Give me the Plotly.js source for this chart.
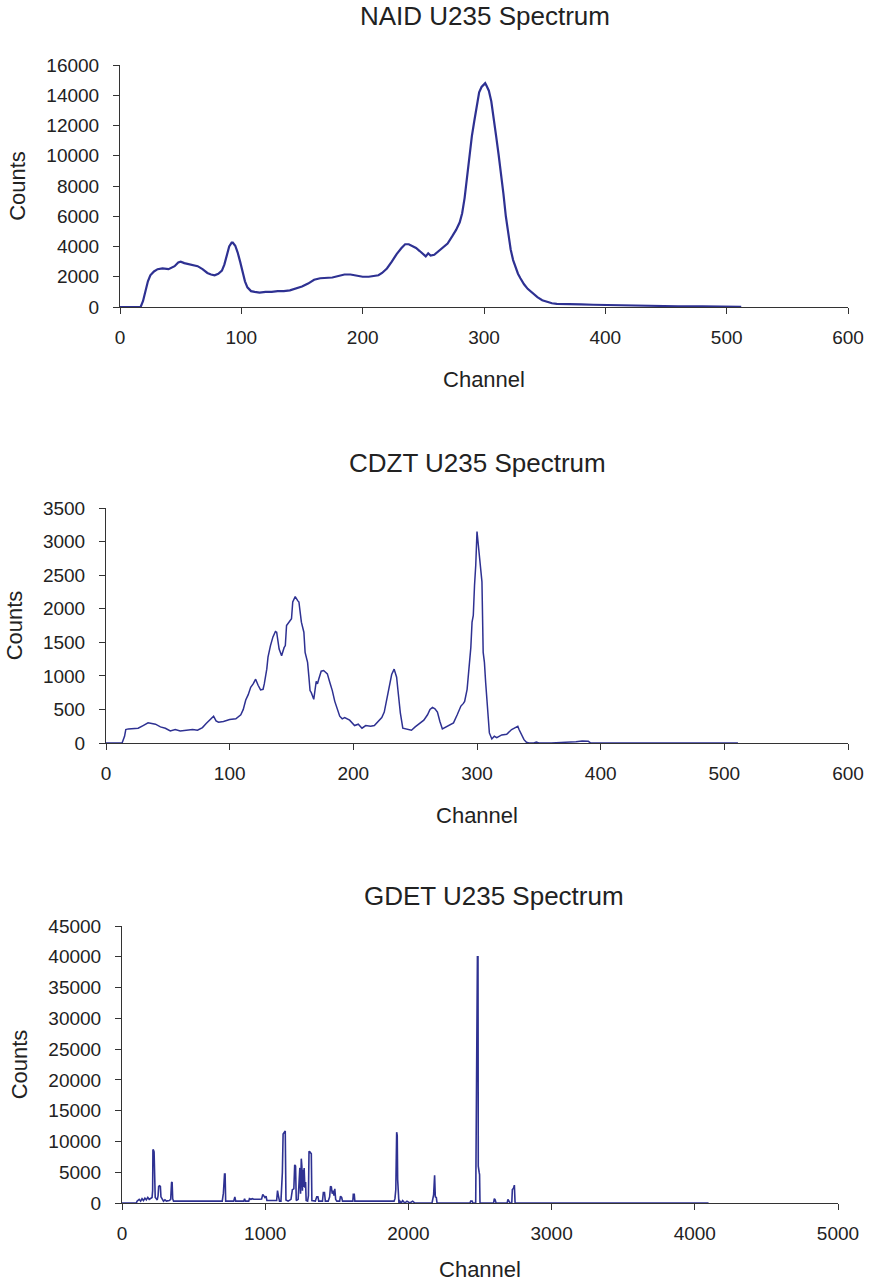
<!DOCTYPE html>
<html>
<head>
<meta charset="utf-8">
<script src="https://cdn.plot.ly/plotly-3.0.1.min.js"></script>
<style>html,body{margin:0;padding:0;background:#fff;}#chart{width:870px;height:1282px;}</style>
</head>
<body>
<div id="chart"></div>
<script>
// ---- NAID U235 spectrum ----
const naidChannel = [0,10,17,19,21,23,25,28,31,35,40,45,48,50,53,56,60,64,68,72,75,78,81,84,86,88,90,92,93,95,97,99,101,103,105,108,111,115,120,125,130,135,140,145,150,155,160,165,170,175,180,185,190,195,200,205,210,213,216,220,224,228,232,235,238,241,244,247,250,252,254,256,259,262,266,270,274,277,280,282,284,286,288,290,292,294,296,298,300,301,302,304,306,308,310,312,314,316,318,320,322,324,326,328,330,333,336,340,344,348,352,356,360,365,370,380,390,400,420,440,460,480,500,512];
const naidCounts = [0,0,0,400,1100,1700,2100,2350,2500,2550,2500,2700,2950,3000,2900,2850,2800,2700,2500,2250,2150,2100,2200,2400,2800,3400,4000,4250,4250,4050,3600,3000,2300,1700,1300,1050,1000,950,1000,1000,1050,1050,1100,1200,1350,1550,1800,1900,1950,1950,2050,2150,2150,2100,2000,2000,2050,2100,2250,2550,3000,3500,3900,4150,4150,4050,3900,3700,3450,3350,3550,3400,3450,3650,3900,4200,4700,5100,5600,6200,7200,8600,10000,11300,12300,13300,14200,14550,14700,14800,14650,14300,13600,12600,11300,10100,8900,7500,6000,4800,3800,3100,2600,2200,1900,1500,1200,900,650,450,330,250,210,190,180,170,150,130,90,70,50,40,20,10];

// ---- CDZT U235 spectrum ----
const cdztChannel = [0,13,15,16,18,22,26,30,34,37,40,44,48,52,56,60,66,70,74,78,81,84,87,89,91,95,100,105,109,111,113,115,117,119,121,123,125,127,128,130,131,133,135,137,138,140,142,144,145,146,148,150,151,153,155,156,158,160,161,163,164,165,166,168,170,171,172,174,176,178,179,181,183,185,187,189,191,193,197,201,204,207,210,214,217,220,223,225,227,229,231,233,234,235,236,237,238,240,244,247,250,253,257,260,262,264,266,268,269,270,272,275,278,281,284,287,289,290,292,293,295,296,297,298,299,300,301,302,303,304,305,306,307,308,309,310,312,314,316,320,324,328,331,333,334,336,338,340,342,346,348,350,360,380,385,390,392,400,450,511];
const cdztCounts = [0,0,100,200,210,210,220,260,300,290,280,240,220,180,200,180,190,200,190,230,290,340,400,330,310,320,350,360,420,500,640,720,830,880,950,860,790,800,880,1100,1280,1450,1580,1660,1650,1400,1300,1420,1450,1750,1800,1850,2100,2180,2120,2100,1800,1650,1350,1200,1000,780,750,650,920,880,950,1070,1080,1050,1030,900,780,620,520,400,360,380,340,260,280,220,260,250,260,320,380,460,640,820,1020,1100,1020,980,800,600,450,220,200,190,240,280,340,420,500,530,510,460,370,320,210,240,270,300,420,550,590,620,800,1000,1420,1800,1900,2350,2650,3150,2950,2750,2500,2400,1350,1200,900,600,300,150,60,100,80,120,130,200,230,250,200,120,50,10,0,0,15,0,0,20,30,25,0,0,0,0];

// ---- GDET U235 spectrum ----
const gdetChannel = [0,100,105,120,130,140,150,160,170,180,190,200,210,214,216,220,224,228,232,240,246,252,256,262,268,272,280,290,300,310,330,340,346,350,354,360,700,708,716,720,724,780,788,794,850,856,862,885,890,900,910,920,960,975,983,990,998,1006,1012,1080,1086,1092,1100,1110,1120,1125,1133,1140,1145,1160,1180,1190,1200,1206,1212,1217,1230,1236,1242,1247,1252,1256,1260,1264,1268,1272,1277,1282,1286,1296,1302,1306,1312,1318,1322,1326,1350,1360,1368,1374,1400,1406,1414,1420,1440,1450,1456,1462,1468,1474,1480,1486,1492,1500,1520,1526,1534,1540,1612,1615,1622,1626,1900,1906,1912,1918,1922,1925,1928,1934,1940,1950,1960,1975,1990,2010,2030,2045,2165,2170,2176,2183,2188,2195,2200,2430,2435,2445,2450,2470,2474,2478,2482,2486,2488,2494,2497,2500,2595,2600,2606,2612,2690,2695,2705,2710,2722,2726,2734,2740,2745,4096];
const gdetCounts = [0,0,300,600,300,700,400,800,500,900,600,700,900,2000,8700,8600,8300,2000,900,700,500,1200,2700,2800,2700,1000,600,300,500,300,400,600,3300,3400,700,300,300,1600,4700,4700,300,300,1000,300,300,700,300,300,700,600,700,600,600,650,1400,1200,900,1100,400,400,2000,1200,300,300,5000,11200,11400,11700,500,300,600,2200,2300,6200,6000,400,600,3800,5700,1500,7200,6000,2000,5400,2600,5700,2500,3400,400,300,1200,8400,8300,8000,8000,400,300,1000,1000,300,300,1700,1700,300,300,1000,2700,2600,1500,2000,1200,2300,600,300,300,1100,900,300,300,1400,1400,300,300,700,2200,11500,11000,3800,2400,0,300,0,400,0,300,0,300,0,0,1000,1300,4500,1000,900,0,0,300,300,0,0,20000,23000,40000,40000,6000,5000,4600,0,0,700,500,0,0,600,300,0,0,2200,2400,2900,0,0];

const titles = ["NAID U235 Spectrum", "CDZT U235 Spectrum", "GDET U235 Spectrum"];
const xTitle = "Channel";
const yTitle = "Counts";

const W = 870, H = 1282;
const lineColor = "#2E3192";
const axisColor = "#333333";
const textColor = "#222222";
const fam = "Liberation Sans, Arial, sans-serif";

function px(x){ return x / W; }
function py(y){ return 1 - y / H; }

const traces = [
  {x: naidChannel, y: naidCounts, type: "scatter", mode: "lines", line: {color: lineColor, width: 2.2}, xaxis: "x", yaxis: "y"},
  {x: cdztChannel, y: cdztCounts, type: "scatter", mode: "lines", line: {color: lineColor, width: 1.5}, xaxis: "x2", yaxis: "y2"},
  {x: gdetChannel, y: gdetCounts, type: "scatter", mode: "lines", line: {color: lineColor, width: 1.6}, xaxis: "x3", yaxis: "y3"}
];

function xAxis(dom, range, dtick, anchor){
  return {
    domain: dom, range: range, dtick: dtick, tick0: 0, anchor: anchor,
    tickformat: "d",
    showline: true, linecolor: axisColor, linewidth: 1, zeroline: false, showgrid: false,
    ticks: "outside", ticklen: 6, tickwidth: 1, tickcolor: axisColor,
    tickfont: {family: fam, size: 19, color: textColor}, ticklabelstandoff: 7,
    title: {text: xTitle, font: {family: fam, size: 22, color: textColor}, standoff: 24},
    fixedrange: true
  };
}
function yAxis(dom, range, dtick, anchor){
  return {
    domain: dom, range: range, dtick: dtick, tick0: 0, anchor: anchor,
    tickformat: "d",
    showline: true, linecolor: axisColor, linewidth: 1, zeroline: false, showgrid: false,
    ticks: "outside", ticklen: 6, tickwidth: 1, tickcolor: axisColor,
    tickfont: {family: fam, size: 19, color: textColor}, ticklabelstandoff: 10,
    title: {text: yTitle, font: {family: fam, size: 22, color: textColor}, standoff: 14},
    fixedrange: true
  };
}

const layout = {
  width: W, height: H,
  margin: {l: 0, r: 0, t: 0, b: 0},
  paper_bgcolor: "#ffffff", plot_bgcolor: "#ffffff",
  showlegend: false,
  font: {family: fam, color: textColor},
  title: {text: titles[0], x: px(485), xanchor: "center", y: py(16), yanchor: "middle", font: {family: fam, size: 26, color: textColor}},
  xaxis: xAxis([px(120), px(848)], [0, 600], 100, "y"),
  yaxis: yAxis([py(307), py(65)], [0, 16000], 2000, "x"),
  xaxis2: xAxis([px(106), px(848)], [0, 600], 100, "y2"),
  yaxis2: yAxis([py(743), py(508)], [0, 3500], 500, "x2"),
  xaxis3: xAxis([px(122), px(838)], [0, 5000], 1000, "y3"),
  yaxis3: yAxis([py(1203), py(926)], [0, 45000], 5000, "x3"),
  annotations: [
    {text: titles[1], xref: "paper", yref: "paper", x: px(477), y: py(463), xanchor: "center", yanchor: "middle", showarrow: false, font: {family: fam, size: 26, color: textColor}},
    {text: titles[2], xref: "paper", yref: "paper", x: px(494), y: py(896), xanchor: "center", yanchor: "middle", showarrow: false, font: {family: fam, size: 26, color: textColor}}
  ]
};

Plotly.newPlot("chart", traces, layout, {displayModeBar: false, staticPlot: true});
</script>
</body>
</html>
